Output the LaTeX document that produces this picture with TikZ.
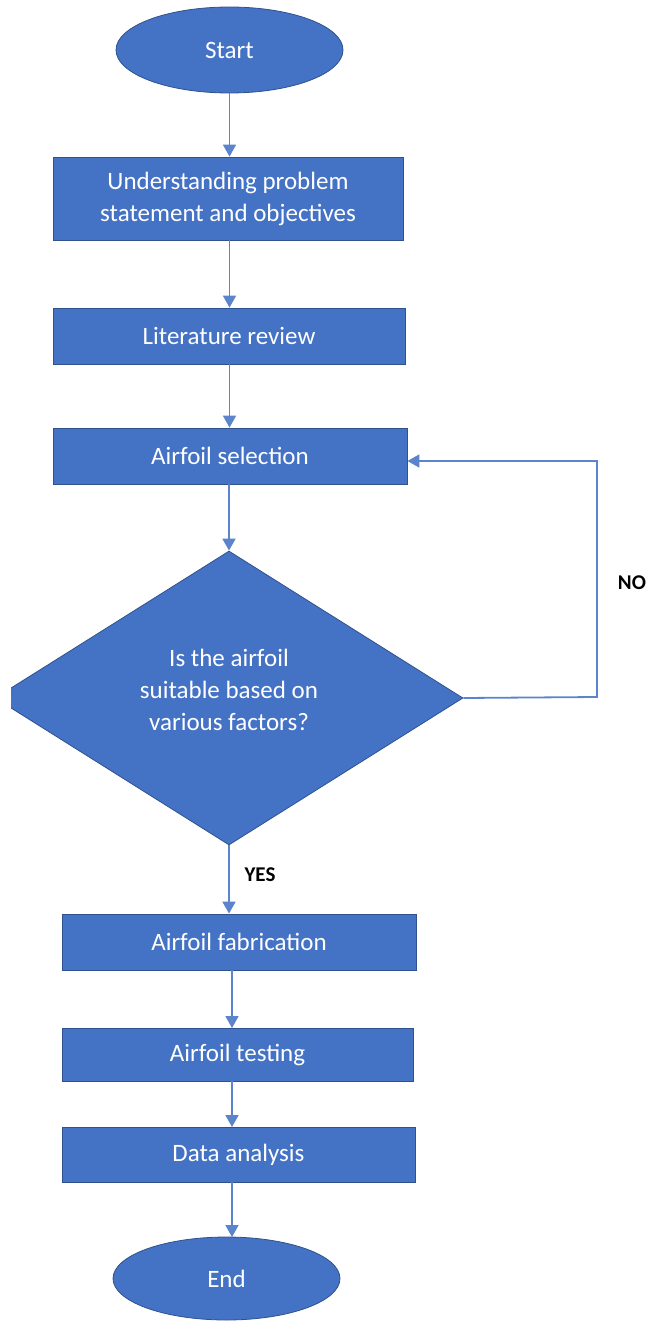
\documentclass[tikz,border=0pt]{standalone}
\usepackage{fontspec}
\setmainfont{Carlito}
\usetikzlibrary{shapes.geometric,arrows.meta}
\definecolor{fillblue}{HTML}{4472C4}
\definecolor{edgeblue}{HTML}{2F528F}
\definecolor{lineblue}{HTML}{5B84CC}
\tikzset{
  every node/.style={font=\fontsize{25}{32}\selectfont},
  procbox/.style={rectangle, draw=edgeblue, line width=0.8pt, fill=fillblue, text=white, align=center, inner sep=0pt},
  term/.style={ellipse, draw=edgeblue, line width=0.8pt, fill=fillblue, text=white, inner sep=0pt},
  decision/.style={diamond, draw=edgeblue, line width=0.8pt, fill=fillblue, inner sep=0pt},
  flow/.style={draw=lineblue, line width=1.8pt, -{Triangle[width=13pt,length=12pt]}},
  lab/.style={font=\fontsize{21}{25}\selectfont\bfseries, text=black}
}
\begin{document}
\begin{tikzpicture}[x=1pt,y=-1pt]
\useasboundingbox (0,0) rectangle (652,1324);
\node[term, minimum width=227pt, minimum height=86pt] (start) at (229.5,50) {Start};
\node[procbox, minimum width=350pt, minimum height=83pt] (understand) at (228,198.5) {Understanding problem\\statement and objectives};
\node[procbox, minimum width=352pt, minimum height=56pt] (lit) at (229,336) {Literature review};
\node[procbox, minimum width=354pt, minimum height=56pt] (select) at (230,456) {Airfoil selection};
\begin{scope}
\clip (11,540) rectangle (652,860);
\node[decision, minimum width=468pt, minimum height=294pt] (dec) at (229,698) {};
\end{scope}
\node[text=white, align=center] (dectext) at (229,690) {Is the airfoil\\suitable based on\\various factors?};
\node[procbox, minimum width=354pt, minimum height=56pt] (fab) at (239,942) {Airfoil fabrication};
\node[procbox, minimum width=351pt, minimum height=53pt] (test) at (237.5,1054.5) {Airfoil testing};
\node[procbox, minimum width=353pt, minimum height=55pt] (data) at (238.5,1154.5) {Data analysis};
\node[term, minimum width=227pt, minimum height=83pt] (end) at (226.5,1278.5) {End};
\coordinate (c1) at (597,697);
\coordinate (c2) at (597,461);
\draw[flow] (start.south) -- (start.south |- understand.north);
\draw[flow] (understand.south -| start.south) -- (start.south |- lit.north);
\draw[flow] (lit.south -| start.south) -- (start.south |- select.north);
\draw[flow] (select.south -| dec.north) -- (dec.north);
\draw[flow] (dec.east) -- (c1) -- (c2) -- (c2 -| select.east);
\draw[flow] (dec.south) -- (dec.south |- fab.north);
\draw[flow] (232,970) -- (232,1028);
\draw[flow] (232,1081) -- (232,1127);
\draw[flow] (232,1182) -- (232,1237);
\node[lab] (no) at (632,583) {NO};
\node[lab] (yes) at (260,875) {YES};
\end{tikzpicture}
\end{document}
